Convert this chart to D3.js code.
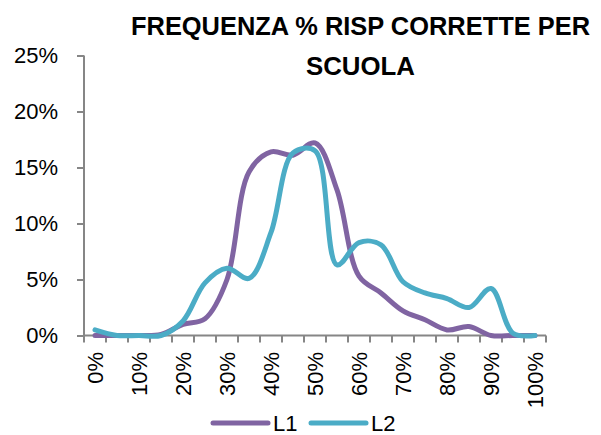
<!DOCTYPE html>
<html>
<head>
<meta charset="utf-8">
<script src="https://cdn.jsdelivr.net/npm/d3@7"></script>
<style>
  body { margin: 0; background: #fff; }
  text { font-family: "Liberation Sans", Arial, sans-serif; fill: #000; }
</style>
</head>
<body>
<svg id="chart" width="601" height="435"></svg>
<script>
var categories = ["0%","5%","10%","15%","20%","25%","30%","35%","40%","45%","50%",
                  "55%","60%","65%","70%","75%","80%","85%","90%","95%","100%"];
// frequency % of correct answers per school (in %)
var L1 = [0, 0, 0, 0.1, 1.0, 1.5, 5.0, 14.6, 16.4, 16.1, 17.2, 13.0, 5.3, 3.8, 2.2, 1.4, 0.5, 0.8, 0, 0, 0];
var L2 = [0.5, 0, 0, 0, 1.3, 4.7, 6.0, 5.1, 9.2, 16.3, 16.5, 6.3, 8.3, 8.1, 4.8, 3.8, 3.3, 2.5, 4.2, 0.2, 0];
var yTicks = [0, 0.05, 0.10, 0.15, 0.20, 0.25];
var seriesNames = ["L1", "L2"];
var seriesColours = ["#8064A2", "#4BACC6"];

var svg = d3.select("#chart");
var axisColour = "#868686";

var x = d3.scaleBand().domain(categories).range([84, 546]).padding(0);
var y = d3.scaleLinear().domain([0, 0.25]).range([335.5, 55.5]);

// title
svg.append("text")
    .attr("x", 360.5).attr("y", 35)
    .attr("text-anchor", "middle")
    .style("font-size", "26px").style("font-weight", "bold")
    .attr("textLength", 459).attr("lengthAdjust", "spacingAndGlyphs")
    .text("FREQUENZA % RISP CORRETTE PER");
svg.append("text")
    .attr("x", 360.5).attr("y", 75)
    .attr("text-anchor", "middle")
    .style("font-size", "26px").style("font-weight", "bold")
    .attr("textLength", 109).attr("lengthAdjust", "spacingAndGlyphs")
    .text("SCUOLA");

// y axis
var yAxis = svg.append("g")
    .attr("transform", "translate(84,0)")
    .call(d3.axisLeft(y).tickValues(yTicks).tickFormat(d3.format(".0%")).tickSize(7).tickPadding(19));
yAxis.select(".domain").attr("stroke", axisColour).attr("stroke-width", 2).attr("d", "M0," + y(0.25) + "V" + y(0));
yAxis.selectAll(".tick line").attr("stroke", axisColour).attr("stroke-width", 2);
yAxis.selectAll(".tick text").style("font-size", "22px").attr("font-family", null).attr("fill", "#000");

// x axis line and ticks at category boundaries
var bounds = categories.map(function(c){ return x(c); }).concat([x.range()[1]]);
svg.append("line")
    .attr("x1", 84).attr("x2", 546)
    .attr("y1", y(0)).attr("y2", y(0))
    .attr("stroke", axisColour).attr("stroke-width", 2);
svg.selectAll("xticks")
    .data(bounds)
    .enter()
    .append("line")
    .attr("x1", function(d){ return d; })
    .attr("x2", function(d){ return d; })
    .attr("y1", y(0))
    .attr("y2", y(0) + 7)
    .attr("stroke", axisColour).attr("stroke-width", 2);

// x labels, every other category, rotated
svg.selectAll("xlabels")
    .data(categories.filter(function(d, i){ return i % 2 === 0; }))
    .enter()
    .append("text")
    .attr("transform", function(d){ return "translate(" + (x(d) + x.bandwidth() / 2) + ",352) rotate(-90)"; })
    .attr("text-anchor", "end")
    .attr("dy", "0.35em")
    .style("font-size", "22px")
    .text(function(d){ return d; });

// lines
var line = d3.line()
    .x(function(d, i){ return x(categories[i]) + x.bandwidth() / 2; })
    .y(function(d){ return y(d / 100); })
    .curve(d3.curveCatmullRom.alpha(0.5));

[L1, L2].forEach(function(s, k){
  svg.append("path")
      .attr("d", line(s))
      .attr("fill", "none")
      .attr("stroke", seriesColours[k])
      .attr("stroke-width", 5)
      .attr("stroke-linejoin", "round")
      .attr("stroke-linecap", "round");
});

// legend
var legendX = [213, 311];
seriesNames.forEach(function(n, k){
  svg.append("line")
      .attr("x1", legendX[k]).attr("x2", legendX[k] + 55)
      .attr("y1", 423).attr("y2", 423)
      .attr("stroke", seriesColours[k]).attr("stroke-width", 5)
      .attr("stroke-linecap", "round");
  svg.append("text")
      .attr("x", legendX[k] + 60).attr("y", 423)
      .attr("dy", "0.35em")
      .style("font-size", "22px")
      .text(n);
});
</script>
</body>
</html>
